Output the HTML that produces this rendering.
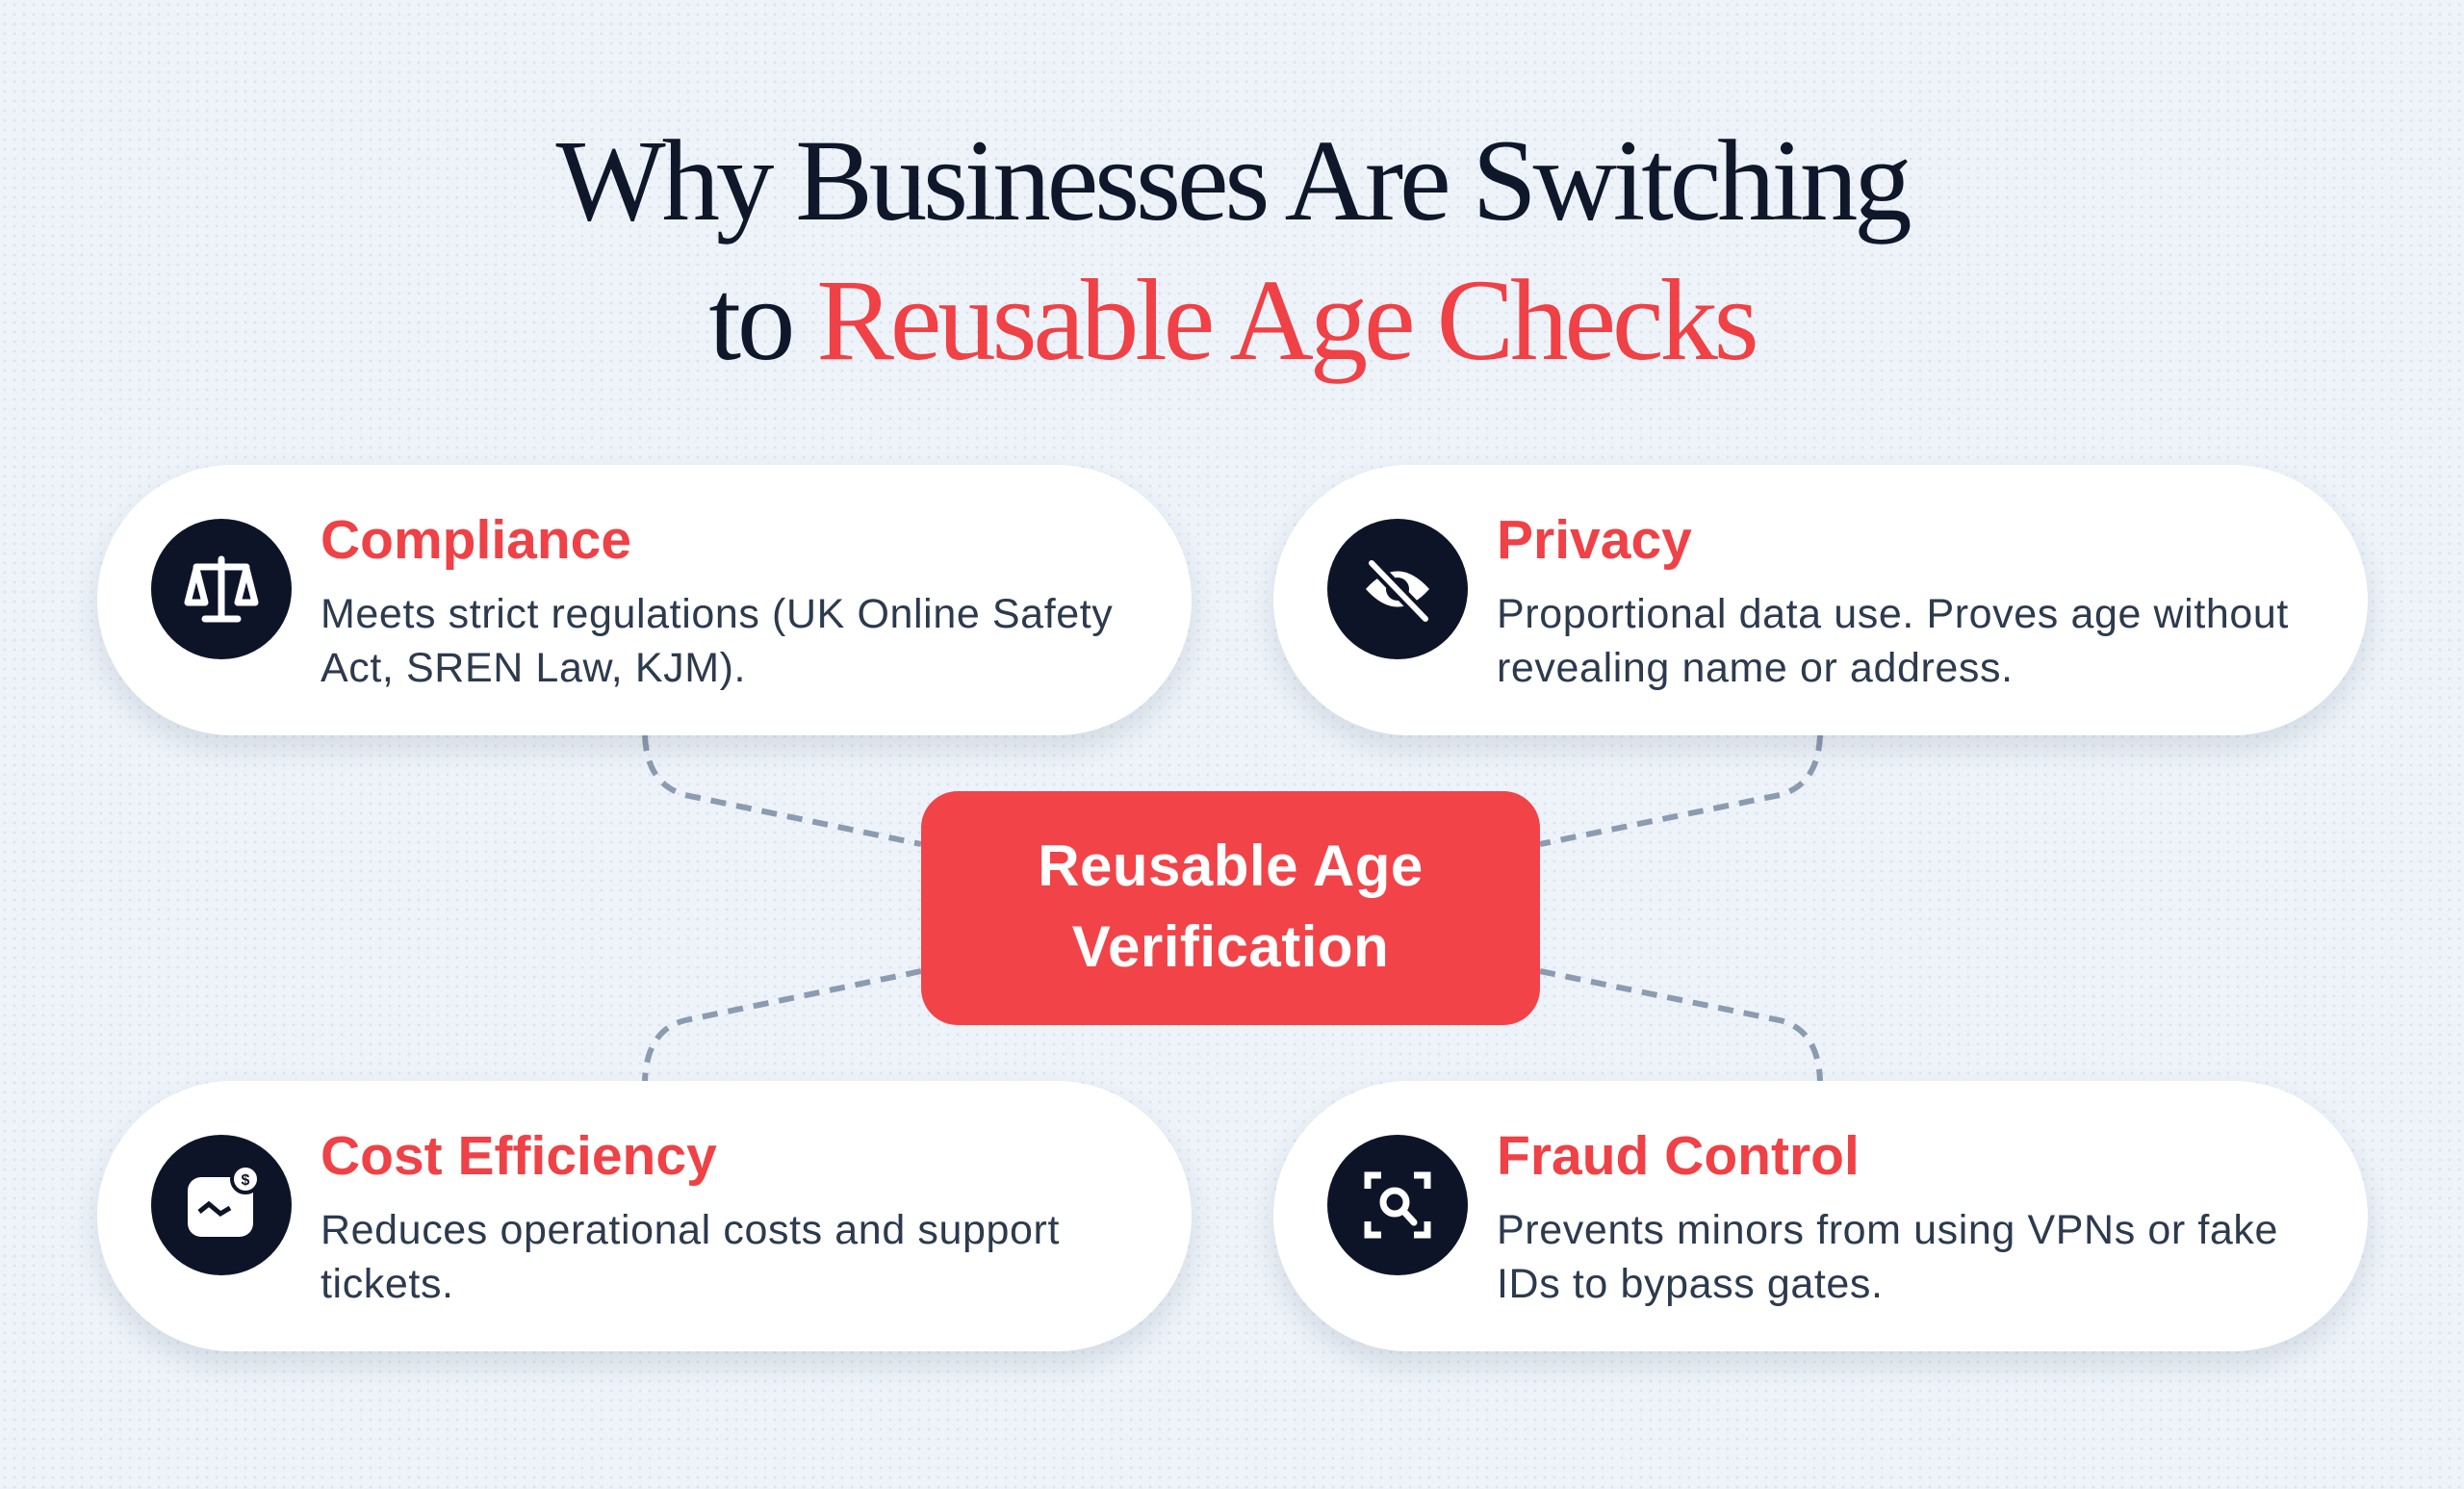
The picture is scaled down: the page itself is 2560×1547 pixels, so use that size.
<!DOCTYPE html>
<html><head><meta charset="utf-8"><style>
*{margin:0;padding:0;box-sizing:border-box}
body{width:2560px;height:1547px;overflow:hidden;position:relative;background:#edf3f9;
background-image:radial-gradient(circle,#dbe3ec 1.2px,transparent 1.6px);background-size:10px 10px;font-family:"Liberation Sans",sans-serif}
.t{position:absolute;left:0;width:2560px;text-align:center;font-family:"Liberation Serif",serif;font-size:121px;color:#0f172a;letter-spacing:-4.2px;line-height:1}
.card{position:absolute;width:1137px;height:281px;background:#fff;border-radius:141px;box-shadow:0 14px 28px rgba(30,50,80,.12)}
.ic{position:absolute;width:146px;height:146px;border-radius:50%;background:#0e1428;left:56px;top:56px}
.ic svg{position:absolute;left:0;top:0}
.h{position:absolute;left:232px;top:45px;font-size:57px;font-weight:bold;color:#ef4146}
.b{position:absolute;left:232px;top:127px;font-size:43px;letter-spacing:0.6px;line-height:56px;color:#2d3a4e;width:900px;white-space:nowrap}
.c{position:absolute;left:957px;top:822px;width:643px;height:243px;background:#f24349;border-radius:38px;color:#fff;font-size:60px;font-weight:bold;text-align:center;line-height:84px;padding-top:36px;letter-spacing:0.5px}
</style></head><body>
<div class="t" style="top:128px">Why Businesses Are Switching</div>
<div class="t" style="top:273px">to <span style="color:#ef4146">Reusable Age Checks</span></div>
<svg width="2560" height="1547" style="position:absolute;left:0;top:0">
<g fill="none" stroke="#8b9bb0" stroke-width="6" stroke-dasharray="16 11">
<path d="M670 764 Q672 815 712 826 L957 877"/>
<path d="M957 1009 L712 1060 Q672 1070 670 1123"/>
<path d="M1891 764 Q1889 815 1849 826 L1600 877"/>
<path d="M1600 1009 L1849 1060 Q1889 1070 1891 1123"/>
</g></svg>
<div class="card" style="left:101px;top:483px"><div class="ic"><svg width="146" height="146" viewBox="0 0 146 146" fill="none" stroke="#fff" stroke-width="7" stroke-linecap="round"><path d="M73 42v62M47 50h52M56 104h34M47 52l-9 35h18zM99 52l-9 35h18z" stroke-linejoin="round"/></svg></div>
<div class="h">Compliance</div><div class="b">Meets strict regulations (UK Online Safety<br>Act, SREN Law, KJM).</div></div>
<div class="card" style="left:1323px;top:483px"><div class="ic"><svg width="146" height="146" viewBox="0 0 146 146"><path d="M40 73 Q73 36 106 73 Q73 110 40 73Z" fill="#fff"/><circle cx="73" cy="73" r="12" fill="#0e1428"/><path d="M46 46 L102 104" stroke="#0e1428" stroke-width="14"/><path d="M46 46 L102 104" stroke="#fff" stroke-width="6" stroke-linecap="round"/></svg></div>
<div class="h">Privacy</div><div class="b">Proportional data use. Proves age without<br>revealing name or address.</div></div>
<div class="card" style="left:101px;top:1123px"><div class="ic"><svg width="146" height="146" viewBox="0 0 146 146"><rect x="38" y="44" width="68" height="62" rx="14" fill="#fff"/><path d="M50 80l10-8 12 10 10-6" stroke="#0e1428" stroke-width="5" fill="none"/><circle cx="98" cy="46" r="14" fill="#fff" stroke="#0e1428" stroke-width="4"/><text x="98" y="52" font-size="16" font-weight="bold" text-anchor="middle" fill="#0e1428" font-family="Liberation Sans">$</text></svg></div>
<div class="h">Cost Efficiency</div><div class="b">Reduces operational costs and support<br>tickets.</div></div>
<div class="card" style="left:1323px;top:1123px"><div class="ic"><svg width="146" height="146" viewBox="0 0 146 146" fill="none" stroke="#fff" stroke-width="7"><path d="M42 56V42h14M90 42h14v14M42 90v14h14M90 104h14V90"/><circle cx="70" cy="70" r="12"/><path d="M79 79l11 12" stroke-linecap="round"/></svg></div>
<div class="h">Fraud Control</div><div class="b">Prevents minors from using VPNs or fake<br>IDs to bypass gates.</div></div>
<div class="c">Reusable Age<br>Verification</div>
</body></html>
